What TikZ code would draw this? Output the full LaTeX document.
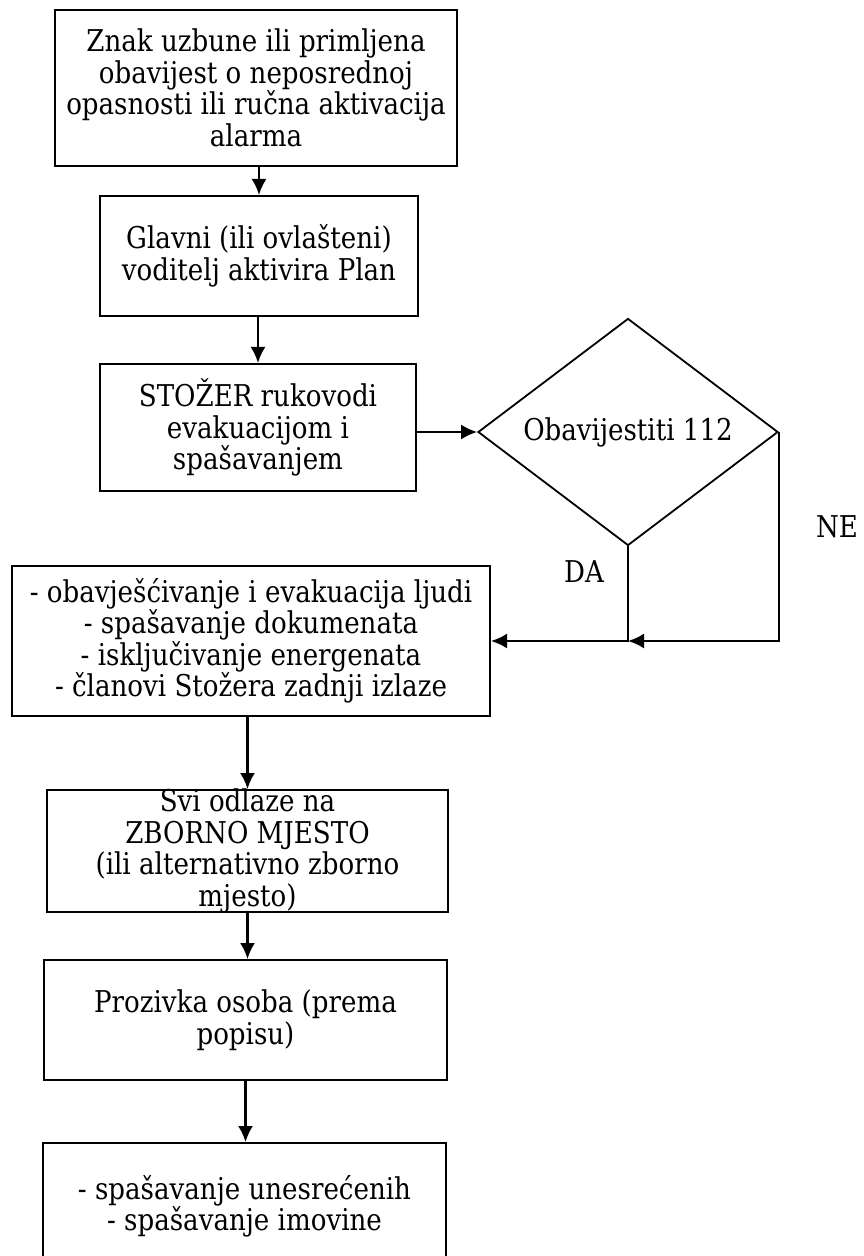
\documentclass[tikz,border=0pt]{standalone}
\usepackage{fontspec}
\setmainfont{DejaVu Serif}[FakeStretch=0.87]
\usetikzlibrary{shapes.geometric, arrows.meta, positioning}

\begin{document}
\begin{tikzpicture}[x=0.5pt, y=-0.5pt,
  box/.style={draw, line width=1pt, align=center, inner sep=0pt,
    font=\fontsize{15}{15.75}\selectfont},
  decision/.style={draw, diamond, line width=0.9pt, inner sep=0pt, aspect=1.32,
    font=\fontsize{15}{15.75}\selectfont},
  lbl/.style={font=\fontsize{15}{15.75}\selectfont},
  flow/.style={-{Latex[length=8pt, width=7.5pt]}, line width=1.1pt}]

  \clip (0,0) rectangle (863,1256);

  % alarm
  \node[box, minimum width=201pt, minimum height=78pt] (alarm) at (256,88)
    {Znak uzbune ili primljena\\obavijest o neposrednoj\\opasnosti ili ručna aktivacija\\alarma};

  % plan
  \node[box, minimum width=159pt, minimum height=60pt] (plan) at (259,256)
    {Glavni (ili ovlašteni)\\voditelj aktivira Plan};

  % stozer
  \node[box, minimum width=158pt, minimum height=63.5pt] (stozer) at (258,427.5)
    {STOŽER rukovodi\\evakuacijom i\\spašavanjem};

  % 112 decision
  \node[decision, minimum width=150pt, minimum height=113.5pt] (call) at (628,432)
    {Obavijestiti 112};

  % evacuation
  \node[box, minimum width=239pt, minimum height=75pt] (evac) at (251,641)
    {- obavješćivanje i evakuacija ljudi\\- spašavanje dokumenata\\- isključivanje energenata\\- članovi Stožera zadnji izlaze};

  % assembly point
  \node[box, minimum width=200.5pt, minimum height=61pt, inner ysep=-1.5pt] (zborno) at (247.5,851)
    {Svi odlaze na\\ZBORNO MJESTO\\(ili alternativno zborno\\mjesto)};

  % roll call
  \node[box, minimum width=201.5pt, minimum height=60pt] (prozivka) at (245.5,1020)
    {Prozivka osoba (prema\\popisu)};

  % rescue
  \node[box, minimum width=201.5pt, minimum height=63.5pt] (rescue) at (244.5,1206.5)
    {- spašavanje unesrećenih\\- spašavanje imovine};

  \node[lbl] (da) at (584,572) {DA};
  \node[lbl] (ne) at (837,527) {NE};
  \coordinate (join) at (call.south |- evac.east);

  \draw[flow] (alarm.south -| plan.north) -- (plan.north);
  \draw[flow] (plan.south -| stozer.north) -- (stozer.north);
  \draw[flow] (stozer.east |- call.west) -- (call.west);
  \draw[flow] (call.south) |- (evac.east);
  \draw[flow] (call.east) |- (join);
  \draw[flow] (evac.south -| zborno.north) -- (zborno.north);
  \draw[flow] (zborno.south) -- (zborno.south |- prozivka.north);
  \draw[flow] (prozivka.south) -- (prozivka.south |- rescue.north);
\end{tikzpicture}
\end{document}
